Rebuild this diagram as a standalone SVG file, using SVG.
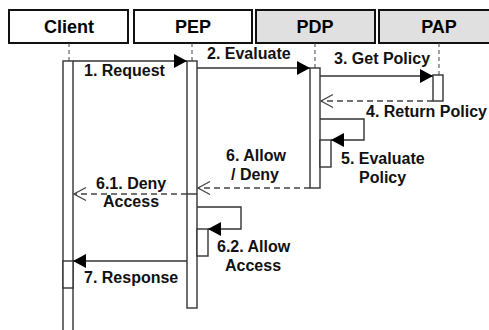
<svg xmlns="http://www.w3.org/2000/svg" width="489" height="330" viewBox="0 0 489 330">
<style>
.hdr{stroke:#111;stroke-width:2}
.w{fill:#fff}
.g{fill:#e0e0e0}
.ht{font-family:"Liberation Sans",Arial,sans-serif;font-weight:bold;font-size:18px;fill:#000;text-anchor:middle}
.lt{font-family:"Liberation Sans",Arial,sans-serif;font-weight:bold;font-size:16px;fill:#111}
.life{stroke:#444;stroke-width:1;stroke-dasharray:4 3;fill:none}
.bar{fill:#fff;stroke:#333;stroke-width:1.4}
.msg{stroke:#333;stroke-width:1.4;fill:none}
.ret{stroke:#444;stroke-width:1.4;fill:none;stroke-dasharray:6 4}
.fh{fill:#000}
.oh{fill:none;stroke:#444;stroke-width:1.3}
</style>
<g id="client">
<rect class="hdr w" x="9" y="10" width="119" height="33"/>
<text class="ht" x="69" y="32.5">Client</text>
<line class="life" x1="69" y1="43" x2="69" y2="61"/>
<rect class="bar" x="63" y="61" width="10" height="280"/>
<rect class="bar" x="63" y="261" width="10" height="27"/>
</g>
<g id="pep">
<rect class="hdr w" x="134" y="10" width="118" height="33"/>
<text class="ht" x="193" y="32.5">PEP</text>
<line class="life" x1="192" y1="43" x2="192" y2="61"/>
<rect class="bar" x="187" y="61" width="10" height="247"/>
<line class="msg" x1="187" y1="194" x2="197" y2="194"/>
<rect class="bar" x="197" y="229" width="11" height="27"/>
</g>
<g id="pdp">
<rect class="hdr g" x="256" y="10" width="119" height="33"/>
<text class="ht" x="315" y="32.5">PDP</text>
<line class="life" x1="315" y1="43" x2="315" y2="68"/>
<rect class="bar" x="310" y="68" width="10" height="120"/>
<rect class="bar" x="320" y="140" width="11" height="27"/>
</g>
<g id="pap">
<rect class="hdr g" x="379" y="10" width="120" height="33"/>
<text class="ht" x="439" y="32.5">PAP</text>
<line class="life" x1="439" y1="43" x2="439" y2="75"/>
<rect class="bar" x="433" y="75" width="10" height="26"/>
</g>
<g id="connectors">
<line class="msg" x1="73" y1="61" x2="187" y2="61"/>
<path class="fh" d="M187,61 L174,54 L174,68 Z"/>
<line class="msg" x1="197" y1="68" x2="310" y2="68"/>
<path class="fh" d="M310,68 L297,61 L297,75 Z"/>
<line class="msg" x1="320" y1="76" x2="433" y2="76"/>
<path class="fh" d="M433,76 L420,69 L420,83 Z"/>
<line class="ret" x1="433" y1="101" x2="321" y2="101"/>
<path class="oh" d="M333,94.5 L321,101 L333,107.5"/>
<polyline class="msg" points="320,119 364,119 364,140 331,140"/>
<path class="fh" d="M331,140 L344,133 L344,147 Z"/>
<line class="ret" x1="310" y1="188" x2="198" y2="188"/>
<path class="oh" d="M210,181.5 L198,188 L210,194.5"/>
<line class="ret" x1="187" y1="194" x2="74" y2="194"/>
<path class="oh" d="M86,187.5 L74,194 L86,200.5"/>
<polyline class="msg" points="197,207 241,207 241,229 208,229"/>
<path class="fh" d="M208,229 L221,222 L221,236 Z"/>
<line class="msg" x1="187" y1="261" x2="73" y2="261"/>
<path class="fh" d="M73,261 L86,254 L86,268 Z"/>
</g>
<g id="labels">
<text class="lt" x="84" y="76">1. Request</text>
<text class="lt" x="207" y="59">2. Evaluate</text>
<text class="lt" x="334" y="64">3. Get Policy</text>
<text class="lt" x="366" y="117">4. Return Policy</text>
<text class="lt" x="341" y="164">5. Evaluate</text>
<text class="lt" x="359" y="183">Policy</text>
<text class="lt" x="226" y="161">6. Allow</text>
<text class="lt" x="231" y="180">/ Deny</text>
<text class="lt" x="96" y="189">6.1. Deny</text>
<text class="lt" x="103" y="207">Access</text>
<text class="lt" x="217" y="252">6.2. Allow</text>
<text class="lt" x="225" y="271">Access</text>
<text class="lt" x="84" y="283">7. Response</text>
</g>
</svg>
